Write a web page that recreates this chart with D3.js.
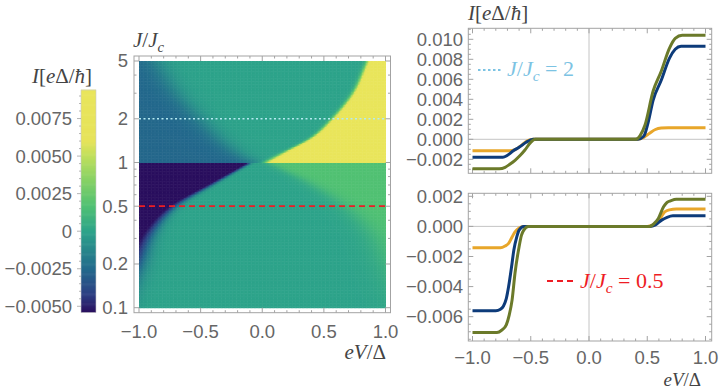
<!DOCTYPE html>
<html>
<head>
<meta charset="utf-8">
<script src="https://cdn.jsdelivr.net/npm/d3@7"></script>
<style>
  body { margin: 0; background: #fff; }
  text { font-family: "Liberation Sans", Arial, sans-serif; }
  .tl { fill: #666; font-size: 18.5px; }
  .math { font-family: "Liberation Serif", "Times New Roman", serif; font-size: 21px; fill: #444; }
</style>
</head>
<body>
<svg id="chart" width="723" height="389"></svg>
<script>
// ---------- data ----------
// heatmap: region boundaries in eV/Δ as a function of J/Jc
var upperJ      = [1, 1.2, 1.5, 2, 3, 5];
var yellowEdge  = [0.03, 0.2, 0.41, 0.57, 0.74, 0.86];
var blueEdge    = [-0.06, -0.22, -0.36, -0.5, -0.69, -0.86];
var lowerJ      = [0.1, 0.2, 0.335, 0.5, 0.74, 1];
var darkEdge    = [-1.15, -1.0, -0.89, -0.71, -0.37, -0.1];
var greenEdge   = [1.15, 1.0, 0.87, 0.67, 0.36, 0.05];
// current level in each region [left, right]
var upperLevels = [-0.0026, 0.0094];
var lowerLevels = [-0.0062, 0.0017];

// colour bar
var cbRange     = [-0.0054, 0.0094];
var cbTicks     = [-0.005, -0.0025, 0, 0.0025, 0.005, 0.0075];
var cbLabels    = ["\u22120.0050", "\u22120.0025", "0", "0.0025", "0.0050", "0.0075"];

// heatmap axes
var hmXTicks    = [-1, -0.5, 0, 0.5, 1];
var hmYTicks    = [0.1, 0.2, 0.5, 1, 2, 5];
var hmYMinor    = [0.3, 0.4, 0.6, 0.7, 0.8, 0.9, 3, 4];
var cutJ        = [2, 0.5];

// line cuts, [eV/Δ, I]
var j2Gold  = [[-1,-0.00114],[-0.68,-0.00114],[-0.64,-0.00106],[-0.59,-0.0007],[-0.53,-0.00015],[-0.48,0],[0.42,0],[0.47,0.0002],[0.52,0.0006],[0.57,0.00098],[0.62,0.00112],[0.68,0.00115],[1,0.00115]];
var j2Blue  = [[-1,-0.0018],[-0.74,-0.0018],[-0.70,-0.0016],[-0.65,-0.00115],[-0.60,-0.0008],[-0.54,-0.0003],[-0.48,0],[0.42,0],[0.47,0.0003],[0.51,0.0018],[0.55,0.0039],[0.62,0.0059],[0.69,0.0081],[0.74,0.009],[0.79,0.0093],[1,0.0093]];
var j2Olive = [[-1,-0.00294],[-0.77,-0.00294],[-0.72,-0.0028],[-0.68,-0.0025],[-0.635,-0.0021],[-0.59,-0.0016],[-0.55,-0.00107],[-0.5,-0.0003],[-0.46,0],[0.4,0],[0.44,0.0004],[0.48,0.0014],[0.55,0.0048],[0.62,0.0068],[0.69,0.0091],[0.74,0.0101],[0.8,0.0104],[1,0.0104]];
var j05Gold  = [[-1,-0.00142],[-0.76,-0.00142],[-0.72,-0.0013],[-0.69,-0.00113],[-0.66,-0.0007],[-0.635,-0.00036],[-0.6,-0.0001],[-0.56,0],[0.5,0],[0.55,0.0001],[0.595,0.0003],[0.625,0.0007],[0.65,0.00097],[0.69,0.0011],[0.75,0.00115],[1,0.00115]];
var j05Blue  = [[-1,-0.0056],[-0.8,-0.0056],[-0.76,-0.0055],[-0.735,-0.0053],[-0.71,-0.0048],[-0.69,-0.004],[-0.665,-0.0027],[-0.645,-0.00157],[-0.62,-0.0007],[-0.6,-0.00025],[-0.56,0],[0.52,0],[0.57,0.0001],[0.62,0.0004],[0.67,0.0006],[0.72,0.0007],[1,0.0007]];
var j05Olive = [[-1,-0.00705],[-0.79,-0.00705],[-0.75,-0.0069],[-0.71,-0.00654],[-0.685,-0.0059],[-0.66,-0.00488],[-0.635,-0.0031],[-0.6,-0.00135],[-0.58,-0.0006],[-0.56,-0.00025],[-0.52,0],[0.52,0],[0.56,0.0002],[0.595,0.00053],[0.64,0.0013],[0.67,0.0016],[0.7,0.0017],[0.75,0.0018],[1,0.0018]];

var lineXTicks   = [-1, -0.5, 0, 0.5, 1];
var topYTicks    = [-0.002, 0, 0.002, 0.004, 0.006, 0.008, 0.010];
var bottomYTicks = [-0.006, -0.004, -0.002, 0, 0.002];

// ---------- setup ----------
var svg = d3.select("#chart");
var gray = "#a3a3a3";

var color = d3.scaleLinear()
  .domain([-0.0054, -0.0042, -0.0025, 0, 0.0017, 0.0035, 0.005, 0.006, 0.0094])
  .range(["#2a0f5e", "#2d3f83", "#236a8c", "#2da38a", "#51c173", "#8ad264", "#bfdf5c", "#e6e35a", "#e9e55b"])
  .clamp(true);

function sig(z) { return 1 / (1 + Math.exp(-z)); }

// smooth (monotone cubic) edge through the read points, in log J
function edge(js, xs) {
  var t = js.map(Math.log10), n = t.length, m = [], d = [];
  for (var i = 0; i < n - 1; i++) d.push((xs[i + 1] - xs[i]) / (t[i + 1] - t[i]));
  m[0] = d[0]; m[n - 1] = d[n - 2];
  for (i = 1; i < n - 1; i++) m[i] = d[i - 1] * d[i] <= 0 ? 0 : (d[i - 1] + d[i]) / 2;
  return function(J) {
    var u = Math.log10(J);
    if (u <= t[0]) return xs[0];
    if (u >= t[n - 1]) return xs[n - 1];
    var k = d3.bisectRight(t, u) - 1, h = t[k + 1] - t[k], s = (u - t[k]) / h;
    var h00 = 2*s*s*s - 3*s*s + 1, h10 = s*s*s - 2*s*s + s, h01 = -2*s*s*s + 3*s*s, h11 = s*s*s - s*s;
    return h00 * xs[k] + h10 * h * m[k] + h01 * xs[k + 1] + h11 * h * m[k + 1];
  };
}
var upYellow = edge(upperJ, yellowEdge);
var upBlue   = edge(upperJ, blueEdge);
var loDark   = edge(lowerJ, darkEdge);
var loGreen  = edge(lowerJ, greenEdge);

function current(x, J) {
  if (J >= 1) {
    var wr = 0.012 + 0.03 * Math.max(0, 1.3 - J);
    return upperLevels[1] * sig((x - upYellow(J)) / wr) +
           upperLevels[0] * sig((upBlue(J) - x) / 0.06);
  }
  var wd = 0.012 + 0.05 * (1 - J) * (1 - J);
  var wg = 0.03 + 0.05 * (1 - J);
  return lowerLevels[0] * sig((loDark(J) - x) / wd) +
         lowerLevels[1] * sig((x - loGreen(J)) / wg);
}

// math label helper
function mathText(g, x, y, parts, anchor, fill, size) {
  var t = g.append("text").attr("class", "math").attr("x", x).attr("y", y)
    .attr("text-anchor", anchor || "start");
  if (fill) t.style("fill", fill);
  if (size) t.style("font-size", size + "px");
  var shifted = false;
  parts.forEach(function(p) {
    var s = t.append("tspan").text(p.t);
    if (p.it) s.style("font-style", "italic");
    if (p.sub) { s.attr("dy", 5).style("font-size", "0.7em"); shifted = true; }
    else if (shifted) { s.attr("dy", -5); shifted = false; }
  });
  return t;
}
var currentLabel = [{t:"I",it:1},{t:"["},{t:"e",it:1},{t:"\u0394"},{t:"/"},{t:"\u0127",it:1},{t:"]"}];
var jLabel = [{t:"J",it:1},{t:"/"},{t:"J",it:1},{t:"c",it:1,sub:1}];
var vLabel = [{t:"e",it:1},{t:"V",it:1},{t:"/"},{t:"\u0394"}];

function frame(g, box, xs, ys, xMaj, xMin, yMaj, yMin) {
  g.append("rect").attr("x", box[0]).attr("y", box[1])
    .attr("width", box[2] - box[0]).attr("height", box[3] - box[1])
    .attr("fill", "none").attr("stroke", gray).attr("stroke-width", 1);
  function xt(v, len) {
    var X = xs(v);
    g.append("line").attr("x1", X).attr("x2", X).attr("y1", box[3]).attr("y2", box[3] - len).attr("stroke", gray);
    g.append("line").attr("x1", X).attr("x2", X).attr("y1", box[1]).attr("y2", box[1] + len).attr("stroke", gray);
  }
  function yt(v, len) {
    var Y = ys(v);
    g.append("line").attr("y1", Y).attr("y2", Y).attr("x1", box[0]).attr("x2", box[0] + len).attr("stroke", gray);
    g.append("line").attr("y1", Y).attr("y2", Y).attr("x1", box[2]).attr("x2", box[2] - len).attr("stroke", gray);
  }
  xMaj.forEach(function(v) { xt(v, 5); });
  xMin.forEach(function(v) { xt(v, 2.5); });
  yMaj.forEach(function(v) { yt(v, 5); });
  yMin.forEach(function(v) { yt(v, 2.5); });
}
var fmt1 = d3.format(".1f"), fmt3 = d3.format(".3f");
var minorX = d3.range(-1, 1.001, 0.1).filter(function(v) { return Math.abs(v * 2 - Math.round(v * 2)) > 1e-6; });

// ---------- colour bar ----------
var cb = svg.append("g");
var cbY = d3.scaleLinear().domain(cbRange).range([312.3, 90]);
var cbSteps = d3.range(0, 200).map(function(i) {
  return cbRange[0] + (cbRange[1] - cbRange[0]) * i / 200;
});
var cbStep = (cbRange[1] - cbRange[0]) / 200;
cb.selectAll("rect.cb").data(cbSteps).enter().append("rect")
  .attr("x", 81).attr("width", 15)
  .attr("y", function(d) { return cbY(d + cbStep) - 0.3; })
  .attr("height", function(d) { return cbY(d) - cbY(d + cbStep) + 0.6; })
  .attr("fill", function(d) { return color(d + cbStep / 2); });
cb.append("rect").attr("x", 81).attr("y", 90).attr("width", 15).attr("height", 222.3)
  .attr("fill", "none").attr("stroke", "#c8c8c8").attr("stroke-width", 0.6);
d3.range(-0.005, 0.0091, 0.0005).forEach(function(v) {
  var major = cbTicks.some(function(t) { return Math.abs(t - v) < 1e-9; });
  cb.append("line").attr("x1", 81 - (major ? 4 : 2)).attr("x2", 81)
    .attr("y1", cbY(v)).attr("y2", cbY(v)).attr("stroke", gray).attr("stroke-width", 0.8);
});
cb.selectAll("text.cbl").data(cbTicks).enter().append("text")
  .attr("class", "tl").attr("text-anchor", "end")
  .attr("x", 72).attr("y", function(d) { return cbY(d); }).attr("dy", "0.35em")
  .text(function(d, i) { return cbLabels[i]; });
mathText(cb, 62, 83, currentLabel, "middle");

// ---------- heatmap ----------
var hm = svg.append("g");
var hmX = d3.scaleLinear().domain([-1, 1]).range([139, 385.5]);
var hmY = d3.scaleLog().domain([0.1, 5]).range([307.7, 61]);
var nx = 180;
var cells = [];
function addRows(j0, j1, n) {
  var l0 = Math.log10(j0), l1 = Math.log10(j1);
  for (var k = 0; k < n; k++) {
    var a = Math.pow(10, l0 + (l1 - l0) * k / n), b = Math.pow(10, l0 + (l1 - l0) * (k + 1) / n);
    var jm = Math.sqrt(a * b);
    for (var i = 0; i < nx; i++) {
      var x0 = -1 + 2 * i / nx, x1 = -1 + 2 * (i + 1) / nx;
      cells.push({x0: x0, x1: x1, j0: a, j1: b, v: current((x0 + x1) / 2, jm)});
    }
  }
}
addRows(0.1, 1, 100);
addRows(1, 5, 70);
hm.selectAll("rect.c").data(cells).enter().append("rect")
  .attr("x", function(d) { return hmX(d.x0); })
  .attr("y", function(d) { return hmY(d.j1); })
  .attr("width", function(d) { return hmX(d.x1) - hmX(d.x0) + 0.5; })
  .attr("height", function(d) { return hmY(d.j0) - hmY(d.j1) + 0.5; })
  .attr("fill", function(d) { return color(d.v); });
// cuts
hm.append("line").attr("x1", hmX(-1)).attr("x2", hmX(1)).attr("y1", hmY(cutJ[0])).attr("y2", hmY(cutJ[0]))
  .attr("stroke", "#b4eaf2").attr("stroke-width", 1.6).attr("stroke-dasharray", "2,2.5");
hm.append("line").attr("x1", hmX(-1)).attr("x2", hmX(1)).attr("y1", hmY(cutJ[1])).attr("y2", hmY(cutJ[1]))
  .attr("stroke", "#ee1c24").attr("stroke-width", 1.8).attr("stroke-dasharray", "6,4");
frame(hm, [134, 56, 390.5, 312.7], hmX, hmY, hmXTicks, minorX, hmYTicks, hmYMinor);
hm.selectAll("text.xl").data(hmXTicks).enter().append("text")
  .attr("class", "tl").attr("text-anchor", "middle")
  .attr("x", function(d) { return hmX(d); }).attr("y", 338)
  .text(function(d) { return fmt1(d); });
hm.selectAll("text.yl").data(hmYTicks).enter().append("text")
  .attr("class", "tl").attr("text-anchor", "end")
  .attr("x", 128).attr("y", function(d) { return hmY(d); }).attr("dy", "0.35em")
  .text(function(d) { return String(d); });
mathText(hm, 133, 47, jLabel, "start");
mathText(hm, 386, 359, vLabel, "end");

// ---------- line plots ----------
var px = d3.scaleLinear().domain([-1, 1]).range([472.5, 705.5]);
var lineColors = ["#e8a62a", "#0d3b7a", "#6b7a2a"];

function linePanel(box, yDomain, yRange, yTicks, series, showX) {
  var g = svg.append("g");
  var py = d3.scaleLinear().domain(yDomain).range(yRange);
  g.append("line").attr("x1", box[0]).attr("x2", box[2]).attr("y1", py(0)).attr("y2", py(0))
    .attr("stroke", "#bdbdbd").attr("stroke-width", 0.9);
  g.append("line").attr("x1", px(0)).attr("x2", px(0)).attr("y1", box[1]).attr("y2", box[3])
    .attr("stroke", "#bdbdbd").attr("stroke-width", 0.9);
  var minorY = d3.range(yTicks[0] - 0.002, yTicks[yTicks.length - 1] + 0.002, 0.0005)
    .filter(function(v) { return Math.abs(v / 0.002 - Math.round(v / 0.002)) > 1e-6 && py(v) > box[1] && py(v) < box[3]; });
  frame(g, box, px, py, lineXTicks, minorX, yTicks, minorY);
  var line = d3.line().curve(d3.curveMonotoneX)
    .x(function(d) { return px(d[0]); }).y(function(d) { return py(d[1]); });
  series.forEach(function(s, i) {
    g.append("path").datum(s).attr("d", line).attr("fill", "none")
      .attr("stroke", lineColors[i]).attr("stroke-width", 3);
  });
  g.selectAll("text.yl").data(yTicks).enter().append("text")
    .attr("class", "tl").attr("text-anchor", "end")
    .attr("x", 463).attr("y", function(d) { return py(d); }).attr("dy", "0.35em")
    .text(function(d) { return fmt3(d); });
  if (showX) {
    g.selectAll("text.xl").data(lineXTicks).enter().append("text")
      .attr("class", "tl").attr("text-anchor", "middle")
      .attr("x", function(d) { return px(d); }).attr("y", 364)
      .text(function(d) { return fmt1(d); });
  }
  return g;
}

var topPanel = linePanel([468.3, 28.3, 711.7, 173.3], [-0.002, 0.010], [159.3, 39.3], topYTicks,
  [j2Gold, j2Blue, j2Olive], false);
mathText(topPanel, 468, 20, currentLabel, "start");
topPanel.append("line").attr("x1", 478).attr("x2", 503).attr("y1", 70).attr("y2", 70)
  .attr("stroke", "#7cc3e3").attr("stroke-width", 1.8).attr("stroke-dasharray", "2.5,2.5");
mathText(topPanel, 507, 76, jLabel.concat([{t:" = 2"}]), "start", "#7cc3e3", 22);

var bottomPanel = linePanel([468.3, 193.3, 711.7, 341], [-0.006, 0.002], [316.7, 196.3], bottomYTicks,
  [j05Gold, j05Blue, j05Olive], true);
bottomPanel.append("line").attr("x1", 547).attr("x2", 576).attr("y1", 281).attr("y2", 281)
  .attr("stroke", "#ee1c24").attr("stroke-width", 1.8).attr("stroke-dasharray", "6,4");
mathText(bottomPanel, 580, 288, jLabel.concat([{t:" = 0.5"}]), "start", "#ee1c24", 22);
mathText(bottomPanel, 701, 386, vLabel, "end", null, 19);
</script>
</body>
</html>
